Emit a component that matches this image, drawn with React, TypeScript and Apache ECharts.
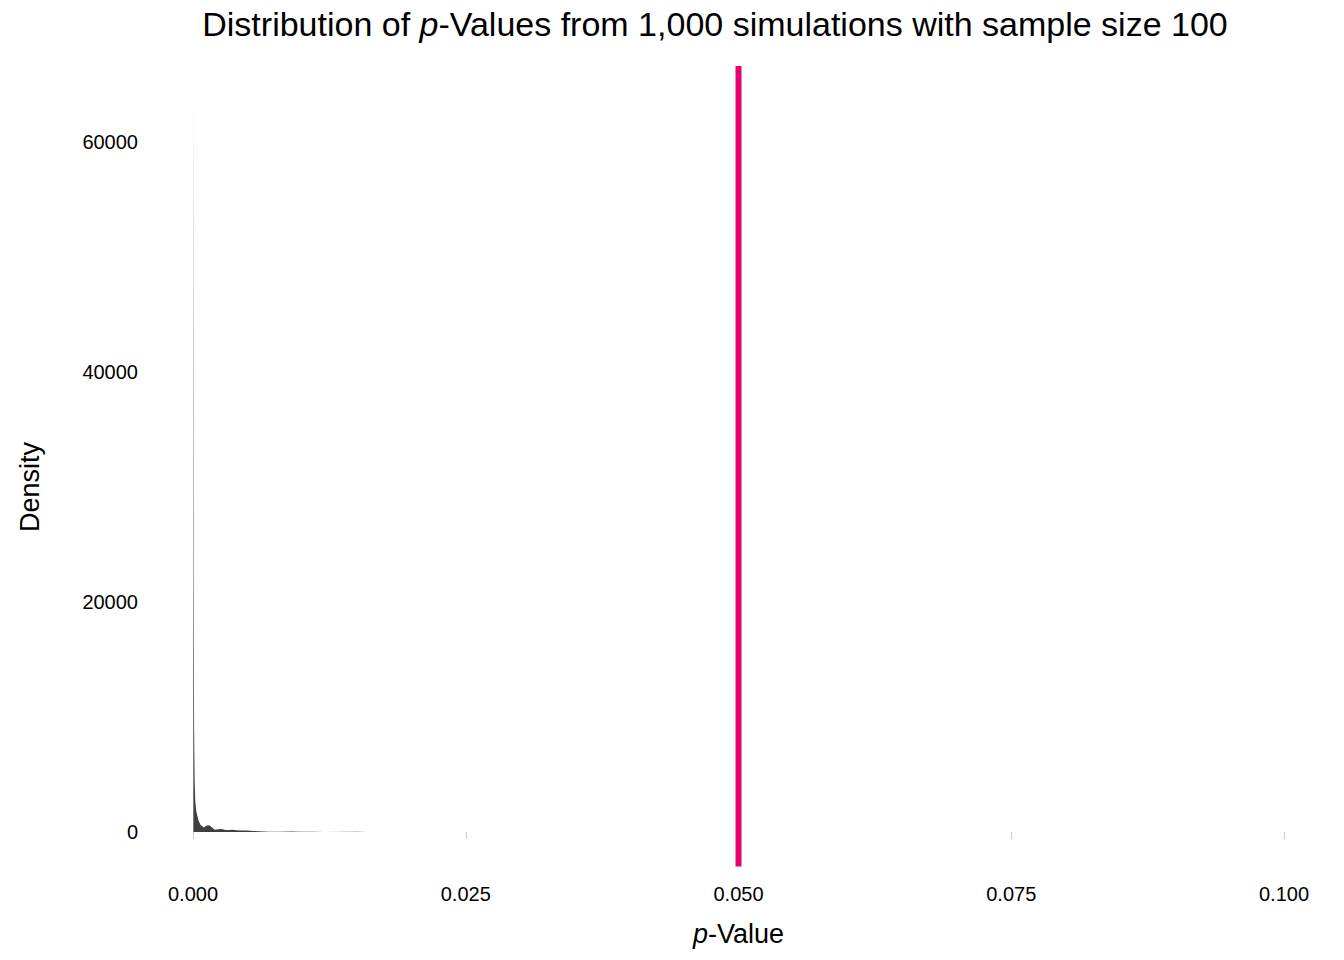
import React, { useEffect, useRef } from "react";
import * as echarts from "echarts";

// density estimate of p-values
const densityX = [0, 0.00003, 0.00006, 0.0001, 0.00015, 0.0002, 0.0003, 0.0005, 0.0007, 0.001, 0.0012, 0.0015, 0.0018, 0.002, 0.0023, 0.0026, 0.003, 0.0033, 0.0036, 0.004, 0.0045, 0.005, 0.0055, 0.006, 0.0065, 0.007, 0.0075, 0.008, 0.009, 0.01, 0.011, 0.012, 0.015, 0.016, 0.017, 0.021, 0.027, 0.0325, 0.0545, 0.062, 0.065, 0.0675, 0.0912, 0.096];
const densityY = [63500, 45000, 22000, 9000, 4500, 2800, 1800, 1000, 600, 400, 550, 580, 350, 200, 230, 260, 180, 170, 200, 150, 130, 120, 90, 70, 50, 30, 20, 30, 40, 30, 20, 10, 15, 10, 8, 6, 6, 6, 4, 4, 4, 4, 4, 4];
const cutoff = 0.05;
const xTicks = [0, 0.025, 0.05, 0.075, 0.1];

const font = "Helvetica, 'Liberation Sans', Arial, sans-serif";

export default function App() {
  const ref = useRef<HTMLDivElement>(null);

  useEffect(() => {
    if (!ref.current) return;
    const chart = echarts.init(ref.current, null, { renderer: "svg" });
    chart.setOption({
      animation: false,
      backgroundColor: "#fff",
      textStyle: { fontFamily: font },
      title: {
        text: "{n|Distribution of }{i|p}{n|-Values from 1,000 simulations with sample size 100}",
        left: 702,
        top: -6,
        textAlign: "center",
        textStyle: {
          rich: {
            n: { fontSize: 34, color: "#000", fontFamily: font, fontWeight: "normal" },
            i: { fontSize: 34, color: "#000", fontStyle: "italic", fontFamily: font, fontWeight: "normal" },
          },
        },
      },
      grid: { left: 175, top: 134, width: 1101, height: 695 },
      xAxis: {
        type: "value",
        min: 0,
        max: 0.1,
        interval: 0.025,
        name: "{i|p}{n|-Value}",
        nameLocation: "middle",
        nameGap: 88,
        nameTextStyle: {
          rich: {
            n: { fontSize: 27, color: "#000", fontFamily: font },
            i: { fontSize: 27, color: "#000", fontStyle: "italic", fontFamily: font },
          },
        },
        axisLine: { show: false },
        axisTick: { show: true, length: 7, lineStyle: { color: "#ccc" } },
        axisLabel: {
          fontSize: 20,
          color: "#000",
          margin: 52,
          formatter: (v: number) => (xTicks.includes(v) ? v.toFixed(3) : ""),
        },
        splitLine: { show: false },
      },
      yAxis: {
        type: "value",
        min: 0,
        max: 60000,
        interval: 20000,
        name: "Density",
        nameLocation: "middle",
        nameGap: 150,
        nameTextStyle: { fontSize: 27, color: "#000" },
        axisLine: { show: false },
        axisTick: { show: false },
        axisLabel: { fontSize: 20, color: "#000", margin: 55, formatter: (v: number) => String(v) },
        splitLine: { show: false },
      },
      series: [
        {
          type: "line",
          clip: false,
          symbol: "none",
          data: densityX.map((x, i) => [x, densityY[i]]),
          lineStyle: { color: "#3f3f3f", width: 0 },
          areaStyle: { color: "#3f3f3f", opacity: 1 },
        },
        {
          type: "line",
          clip: false,
          symbol: "none",
          data: [
            [cutoff, -3000],
            [cutoff, 66600],
          ],
          lineStyle: { color: "#e8006f", width: 6 },
        },
      ],
    });
    return () => chart.dispose();
  }, []);

  return <div ref={ref} style={{ width: 1328, height: 944 }} />;
}
